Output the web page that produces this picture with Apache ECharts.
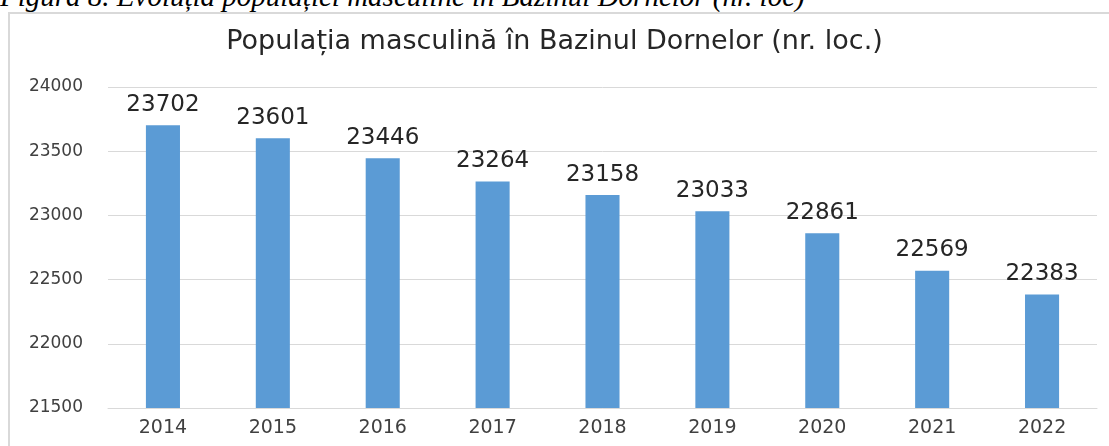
<!DOCTYPE html>
<html>
<head>
<meta charset="utf-8">
<script src="https://cdn.jsdelivr.net/npm/echarts@6/dist/echarts.min.js"></script>
<style>
  html, body { margin: 0; padding: 0; background: #fff; overflow: hidden; }
  #wrap { position: relative; width: 1109px; height: 446px; }
  #caption {
    position: absolute; left: 0; top: -18px; white-space: nowrap;
    font-family: "Liberation Serif", serif; font-style: italic;
    font-size: 29px; line-height: 29px; color: #000;
  }
  #frame {
    position: absolute; left: 8px; top: 12px; width: 1120px; height: 460px;
    border: 2px solid #d9d9d9; box-sizing: border-box;
  }
  #chart { position: absolute; left: 0; top: 0; width: 1109px; height: 446px; }
</style>
</head>
<body>
<div id="wrap">
  <div id="caption">Figura 8. Evoluția populației masculine în Bazinul Dornelor (nr. loc)</div>
  <div id="frame"></div>
  <div id="chart"></div>
</div>
<script>
const years = ['2014', '2015', '2016', '2017', '2018', '2019', '2020', '2021', '2022'];
const maleCounts = [23702, 23601, 23446, 23264, 23158, 23033, 22861, 22569, 22383];

const chart = echarts.init(document.getElementById('chart'));
const font = '"DejaVu Sans", sans-serif';

const option = {
    backgroundColor: 'transparent',
    animation: false,
    title: {
        text: 'Populația masculină în Bazinul Dornelor (nr. loc.)',
        left: 'center',
        top: 23,
        textStyle: { fontFamily: font, fontSize: 27, fontWeight: 'normal', color: '#262626' }
    },
    grid: { left: 108, right: 12, top: 87, bottom: 38 },
    xAxis: {
        type: 'category',
        data: years,
        axisTick: { show: false },
        axisLine: { lineStyle: { color: '#d9d9d9', width: 1 } },
        axisLabel: { color: '#404040', fontFamily: font, fontSize: 19, margin: 11 }
    },
    yAxis: {
        type: 'value',
        min: 21500,
        max: 24000,
        interval: 500,
        axisLine: { show: false },
        axisTick: { show: false },
        axisLabel: {
            color: '#404040', fontFamily: font, fontSize: 17, margin: 25,
            formatter: v => String(v)
        },
        splitLine: { lineStyle: { color: '#d9d9d9', width: 1 } }
    },
    series: [
        {
            type: 'bar',
            data: maleCounts,
            barWidth: '31%',
            itemStyle: { color: '#5b9bd5' },
            label: {
                show: true,
                position: 'top',
                distance: 9,
                color: '#262626',
                fontFamily: font,
                fontSize: 23
            }
        }
    ]
};

chart.setOption(option);
</script>
</body>
</html>
